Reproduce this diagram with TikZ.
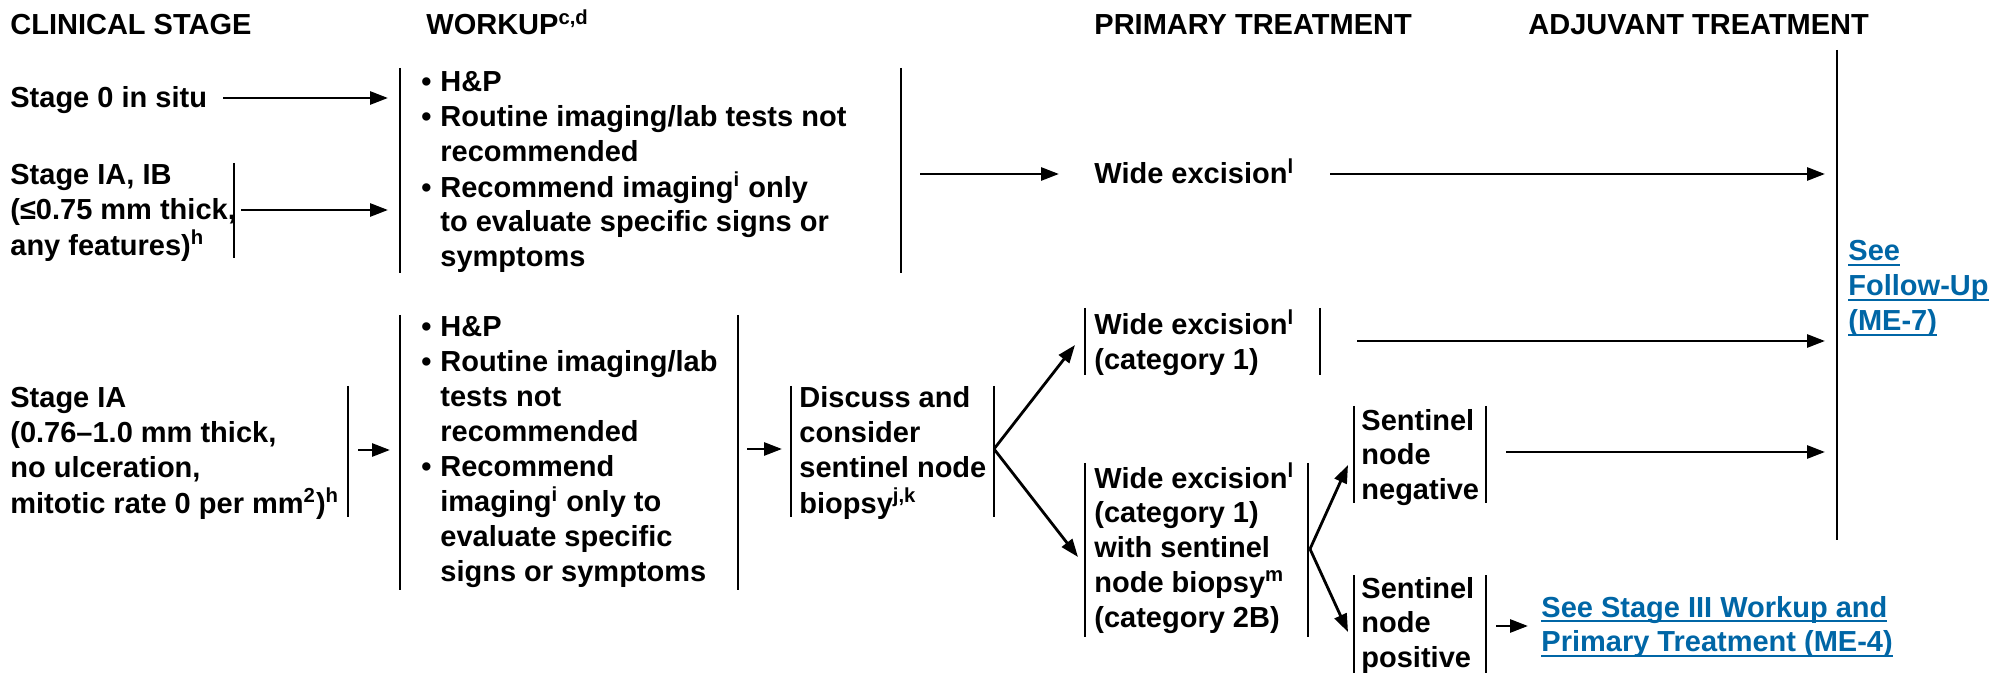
\documentclass[tikz,border=0pt]{standalone}
\usepackage{fontspec}
\setmainfont{Liberation Sans}
\usetikzlibrary{arrows.meta}
\definecolor{lnk}{RGB}{0,102,166}
\newcommand\ml[1]{\begin{tabular}[t]{@{}l@{}}#1\end{tabular}}
\newcommand\bu{\hspace*{5.5pt}\makebox[9.5pt][l]{•}}
\newcommand\ind{\hspace*{15pt}}
\newcommand\ulk[1]{\sbox0{#1}\rlap{\rule[-2.6pt]{\wd0}{0.9pt}}\usebox0}
\begin{document}
\begin{tikzpicture}[x=0.5pt,y=-0.5pt,
  lbl/.style={anchor=base west, inner sep=0pt, font=\fontsize{14.5}{17.4}\selectfont\bfseries},
  link/.style={lbl, text=lnk},
  bar/.style={line width=1.4pt},
  arr/.style={line width=1.4pt, -{Triangle[length=9pt,width=6.5pt]}}]
\useasboundingbox (0,0) rectangle (1992,673);

% headers
\node[lbl] (h1) at (10,35) {CLINICAL STAGE};
\node[lbl] (h2) at (426,35) {WORKUP\textsuperscript{c,d}};
\node[lbl] (h3) at (1094,35) {PRIMARY TREATMENT};
\node[lbl] (h4) at (1528,35) {ADJUVANT TREATMENT};

% row 1
\node[lbl] (s0) at (10,108) {Stage 0 in situ};
\node[lbl] (s1) at (10,185) {\ml{Stage IA, IB\\(≤0.75 mm thick,\\any features)\textsuperscript{h}}};
\node[lbl] (w1) at (410,92) {\ml{\bu H\&P\\\bu Routine imaging/lab tests not\\\ind recommended\\\bu Recommend imaging\textsuperscript{i} only\\\ind to evaluate specific signs or\\\ind symptoms}};
\node[lbl] (p1) at (1094,184) {Wide excision\textsuperscript{l}};
\node[link] (f1) at (1848,261) {\ml{\ulk{See}\\\ulk{Follow-Up}\\\ulk{(ME-7)}}};

% row 2
\node[lbl] (s2) at (10,408) {\ml{Stage IA\\(0.76–1.0 mm thick,\\no ulceration,\\mitotic rate 0 per mm\textsuperscript{2})\textsuperscript{h}}};
\node[lbl] (w2) at (410,337) {\ml{\bu H\&P\\\bu Routine imaging/lab\\\ind tests not\\\ind recommended\\\bu Recommend\\\ind imaging\textsuperscript{i} only to\\\ind evaluate specific\\\ind signs or symptoms}};
\node[lbl] (d) at (799,408) {\ml{Discuss and\\consider\\sentinel node\\biopsy\textsuperscript{j,k}}};
\node[lbl] (p2) at (1094,335) {\ml{Wide excision\textsuperscript{l}\\(category 1)}};
\node[lbl] (p3) at (1094,488) {\ml{Wide excision\textsuperscript{l}\\(category 1)\\with sentinel\\node biopsy\textsuperscript{m}\\(category 2B)}};
\node[lbl] (n1) at (1361,430) {\ml{Sentinel\\node\\negative}};
\node[lbl] (n2) at (1361,598) {\ml{Sentinel\\node\\positive}};
\node[link] (l2) at (1541,617) {\ml{\ulk{See Stage III Workup and}\\\ulk{Primary Treatment (ME-4)}}};

% bars
\draw[bar] (234,163) -- (234,258);
\draw[bar] (400,68) -- (400,273);
\draw[bar] (901,68) -- (901,273);
\draw[bar] (1837,50) -- (1837,540);
\draw[bar] (348,386) -- (348,517);
\draw[bar] (400,315) -- (400,590);
\draw[bar] (738,315) -- (738,590);
\draw[bar] (791,386) -- (791,517);
\draw[bar] (994,386) -- (994,517);
\draw[bar] (1085,308) -- (1085,375);
\draw[bar] (1320,308) -- (1320,375);
\draw[bar] (1085,463) -- (1085,637);
\draw[bar] (1308,463) -- (1308,637);
\draw[bar] (1354,406) -- (1354,503);
\draw[bar] (1486,406) -- (1486,503);
\draw[bar] (1354,575) -- (1354,673);
\draw[bar] (1486,575) -- (1486,673);

% connector end points
\coordinate (a0s) at (223,98);   \coordinate (a0e) at (388,98);
\coordinate (a1s) at (241,210);  \coordinate (a1e) at (388,210);
\coordinate (a2s) at (920,174);  \coordinate (a2e) at (1059,174);
\coordinate (a3s) at (1330,174); \coordinate (a3e) at (1825,174);
\coordinate (a4s) at (1357,341); \coordinate (a4e) at (1825,341);
\coordinate (a5s) at (358,450);  \coordinate (a5e) at (390,450);
\coordinate (a6s) at (747,449);  \coordinate (a6e) at (782,449);
\coordinate (bd) at (994,449);
\coordinate (bdu) at (1075,345); \coordinate (bdl) at (1078,557);
\coordinate (bp) at (1310,549);
\coordinate (bpu) at (1348,465); \coordinate (bpl) at (1348,632);
\coordinate (a7s) at (1506,452); \coordinate (a7e) at (1825,452);
\coordinate (a8s) at (1496,626); \coordinate (a8e) at (1528,626);

\draw[arr] (a0s) -- (a0e);
\draw[arr] (a1s) -- (a1e);
\draw[arr] (a2s) -- (a2e);
\draw[arr] (a3s) -- (a3e);
\draw[arr] (a4s) -- (a4e);
\draw[arr] (a5s) -- (a5e);
\draw[arr] (a6s) -- (a6e);
\draw[arr] (bd) -- (bdu);
\draw[arr] (bd) -- (bdl);
\draw[arr] (bp) -- (bpu);
\draw[arr] (bp) -- (bpl);
\draw[arr] (a7s) -- (a7e);
\draw[arr] (a8s) -- (a8e);
\end{tikzpicture}
\end{document}
